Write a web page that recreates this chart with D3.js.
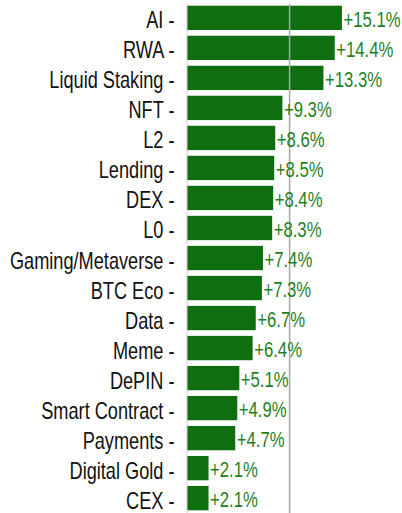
<!DOCTYPE html>
<html>
<head>
<meta charset="utf-8">
<script src="https://cdn.jsdelivr.net/npm/d3@7"></script>
<style>
  body { margin: 0; background: #fff; }
  svg { display: block; }
  .lbl text, .val { font-family: "Liberation Sans", Arial, sans-serif; }
</style>
</head>
<body>
<div id="chart"></div>
<script>
// sectors, sorted by gain
var sectors = ["AI", "RWA", "Liquid Staking", "NFT", "L2", "Lending", "DEX", "L0",
  "Gaming/Metaverse", "BTC Eco", "Data", "Meme", "DePIN", "Smart Contract",
  "Payments", "Digital Gold", "CEX"];
var gains = [15.1, 14.4, 13.3, 9.3, 8.6, 8.5, 8.4, 8.3, 7.4, 7.3, 6.7, 6.4, 5.1, 4.9, 4.7, 2.1, 2.1];
var refLine = 10;

const W = 402, H = 513;
// no narrow font installed, squeeze Liberation Sans instead
const lblSqueeze = 0.79, valSqueeze = 0.76;

var svg = d3.select("#chart").append("svg")
    .attr("width", W)
    .attr("height", H);

var x = d3.scaleLinear().domain([0, 10]).range([187, 289.6]);
var y = d3.scaleBand().domain(sectors).range([3, 513])
    .paddingInner(0.19).paddingOuter(0.09);

// bars
svg.selectAll(".bar")
    .data(sectors)
    .enter().append("rect")
    .attr("class", "bar")
    .attr("x", x(0))
    .attr("y", d => y(d))
    .attr("width", (d, i) => x(gains[i]) - x(0))
    .attr("height", y.bandwidth())
    .attr("fill", "#0f6e0f");

// axis line at zero + reference line
svg.append("line")
    .attr("x1", x(0)).attr("x2", x(0))
    .attr("y1", 4).attr("y2", H)
    .attr("stroke", "#d0d0d0").attr("stroke-width", 1);
svg.append("line")
    .attr("x1", x(refLine)).attr("x2", x(refLine))
    .attr("y1", 4).attr("y2", H)
    .attr("stroke", "#a8a8a8").attr("stroke-width", 1.5);

// category labels
var yAxis = svg.append("g")
    .attr("class", "lbl")
    .attr("transform", "translate(" + x(0) + ",0)")
    .call(d3.axisLeft(y).tickSize(0).tickFormat(d => d + " -"));
yAxis.select(".domain").remove();
yAxis.attr("font-family", null).attr("font-size", null);
yAxis.selectAll("text")
    .attr("x", 0).attr("y", 0).attr("dy", null)
    .attr("transform", "translate(-12.5,10.5) scale(" + lblSqueeze + ",1)")
    .attr("fill", "#111")
    .style("font-size", "23px");

// value labels
svg.selectAll(".val")
    .data(sectors)
    .enter().append("text")
    .attr("class", "val")
    .attr("transform", (d, i) => "translate(" + (x(gains[i]) + 1.5) + "," +
        (y(d) + y.bandwidth() / 2 + 9) + ") scale(" + valSqueeze + ",1)")
    .attr("fill", "#1f7f1f")
    .style("font-size", "22px")
    .text((d, i) => "+" + gains[i].toFixed(1) + "%");
</script>
</body>
</html>
